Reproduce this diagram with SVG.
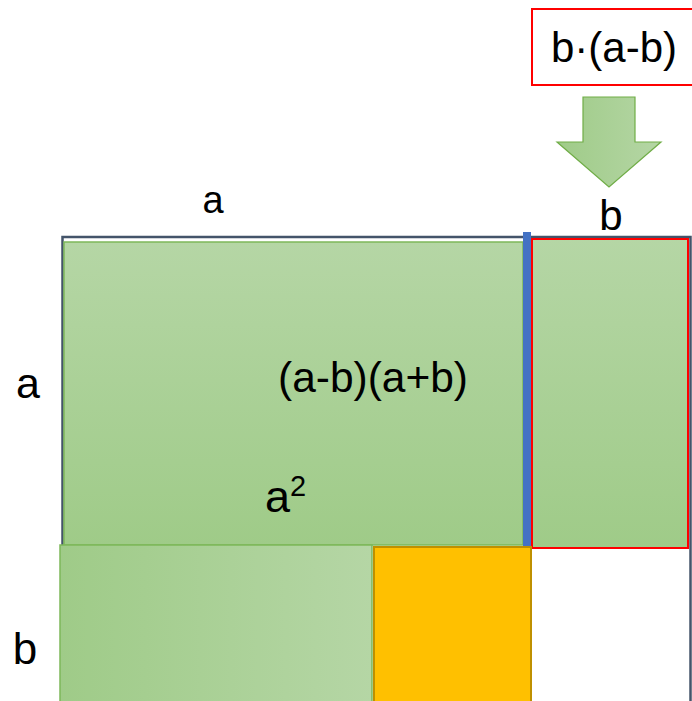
<svg xmlns="http://www.w3.org/2000/svg" width="692" height="701" viewBox="0 0 692 701">
<defs>
<linearGradient id="gv" x1="0" y1="0" x2="0" y2="1"><stop offset="0" stop-color="#B5D6A5"/><stop offset="1" stop-color="#9FCB88"/></linearGradient>
<linearGradient id="gh" x1="0" y1="0" x2="1" y2="0"><stop offset="0" stop-color="#9FCB88"/><stop offset="1" stop-color="#B5D6A5"/></linearGradient>
<style>
.t{font-family:"Liberation Sans",Arial,sans-serif;fill:#000;}
.green{stroke:#7DB85A;stroke-width:1.5;}
</style>
</defs>
<rect width="692" height="701" fill="#fff"/>
<g id="outer-square">
<rect x="62.5" y="237" width="628" height="640" fill="none" stroke="#44546A" stroke-width="2.5"/>
</g>
<g id="a-squared">
<rect x="64" y="242" width="459" height="303" fill="url(#gv)" class="green"/>
<text class="t" x="373" y="392" font-size="43" text-anchor="middle" textLength="190" lengthAdjust="spacingAndGlyphs">(a-b)(a+b)</text>
<text class="t" x="265" y="512" font-size="45">a<tspan font-size="29" dy="-16">2</tspan></text>
</g>
<g id="divider">
<rect x="523" y="232" width="8" height="316" fill="#4472C4"/>
</g>
<g id="right-strip">
<rect x="532" y="239" width="156" height="309" fill="url(#gv)" stroke="#FF0000" stroke-width="2"/>
</g>
<g id="bottom-strip">
<rect x="60" y="545" width="312" height="170" fill="url(#gh)" class="green"/>
</g>
<g id="bb-square">
<rect x="374" y="547" width="157" height="170" fill="#FFC000" stroke="#BF9000" stroke-width="2"/>
</g>
<g id="formula-box">
<rect x="532" y="9" width="170" height="76" fill="#fff" stroke="#FF0000" stroke-width="2"/>
<text class="t" x="551" y="62" font-size="43" textLength="126" lengthAdjust="spacingAndGlyphs">b·(a-b)</text>
</g>
<g id="connectors">
<polygon points="583,97 635,97 635,142 661,142 609,187 557,142 583,142" fill="url(#gh)" stroke="#70AD47" stroke-width="1.2"/>
</g>
<g id="labels">
<text class="t" x="213" y="213" font-size="38" text-anchor="middle">a</text>
<text class="t" x="611" y="230" font-size="42" text-anchor="middle">b</text>
<text class="t" x="28" y="398" font-size="43" text-anchor="middle">a</text>
<text class="t" x="25" y="664" font-size="44" text-anchor="middle">b</text>
</g>
</svg>
